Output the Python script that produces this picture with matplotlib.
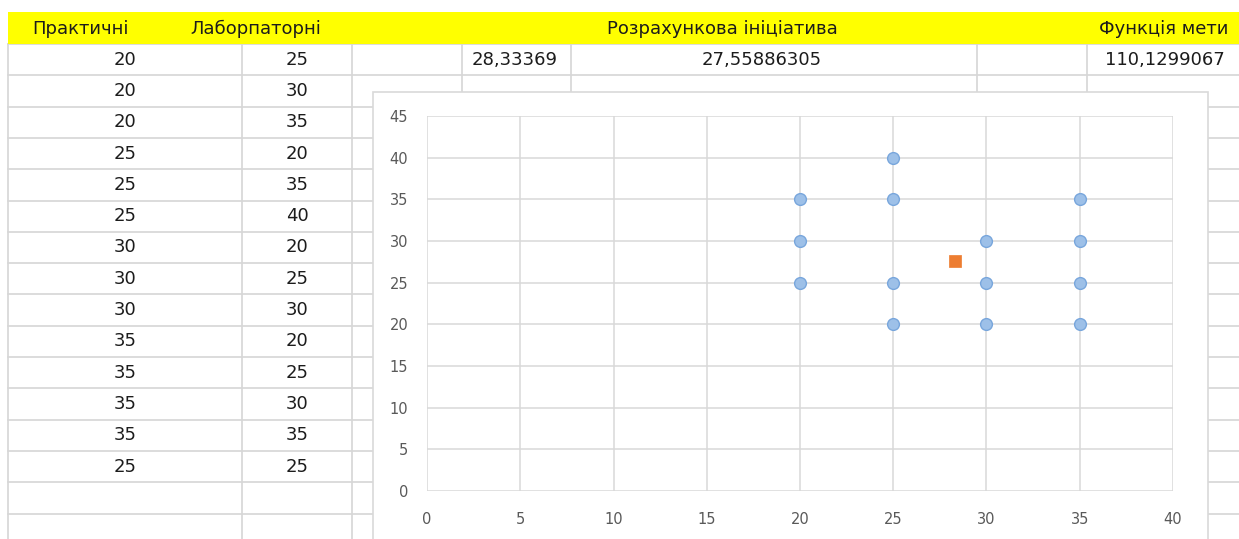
import matplotlib
matplotlib.use("Agg")
import matplotlib.pyplot as plt
from matplotlib.patches import Rectangle

# --- 1. DANE ---
HEADERS = ["Практичні", "Лаборпаторні", "Розрахункова ініціатива", "Функція мети"]
PRAKTYCHNI = [20, 20, 20, 25, 25, 25, 30, 30, 30, 35, 35, 35, 35, 25]
LABORATORNI = [25, 30, 35, 20, 35, 40, 20, 25, 30, 20, 25, 30, 35, 25]
CALC_X = 28.33369
CALC_Y = 27.55886305
FUNC_VALUE = 110.1299067

X_TICKS = [0, 5, 10, 15, 20, 25, 30, 35, 40]
Y_TICKS = [0, 5, 10, 15, 20, 25, 30, 35, 40, 45]

# --- 2. UKLAD (piksele) ---
W, H = 1239, 539
ROW_TOP = 44
ROW_H = 31.3
COL_LINES = [8, 242, 352, 462, 571, 977, 1087]
CHART_BOX = (373, 92, 1208)          # left, top, right
PLOT_BOX = (427, 116, 1173, 491)     # left, top, right, bottom
GRID_CLR = "#d6d6d6"
TEXT_CLR = "#1c1c1c"
FONT = "DejaVu Sans"


def fmt(v, nd):
    return f"{v:.{nd}f}".rstrip("0").replace(".", ",")


def main():
    fig = plt.figure(figsize=(W / 100, H / 100), dpi=100)
    bg = fig.add_axes([0, 0, 1, 1])
    bg.set_xlim(0, W); bg.set_ylim(H, 0); bg.set_axis_off()

    # siatka arkusza
    n_rows = 16
    for k in range(n_rows):
        y = ROW_TOP + ROW_H * k
        bg.plot([COL_LINES[0], W], [y, y], color=GRID_CLR, lw=1.2, zorder=1)
    for x in COL_LINES:
        bg.plot([x, x], [ROW_TOP, H], color=GRID_CLR, lw=1.2, zorder=1)

    # naglowek
    bg.add_patch(Rectangle((COL_LINES[0], 12), W - COL_LINES[0], ROW_TOP - 12,
                           facecolor="#ffff00", edgecolor="none", zorder=2))
    head_pos = [(80, "center"), (256, "center"), (722, "center"), (1099, "left")]
    for (x, ha), txt in zip(head_pos, HEADERS):
        bg.text(x, 28.5, txt, ha=ha, va="center", fontsize=13, family=FONT,
                color=TEXT_CLR, zorder=3)

    # wartosci w tabeli
    for i, (p, l) in enumerate(zip(PRAKTYCHNI, LABORATORNI)):
        yc = ROW_TOP + ROW_H * (i + 0.5)
        bg.text(125, yc, str(p), ha="center", va="center", fontsize=13,
                family=FONT, color=TEXT_CLR, zorder=3)
        bg.text(297, yc, str(l), ha="center", va="center", fontsize=13,
                family=FONT, color=TEXT_CLR, zorder=3)
    yc = ROW_TOP + ROW_H * 0.5
    bg.text(515, yc, fmt(CALC_X, 5), ha="center", va="center", fontsize=13,
            family=FONT, color=TEXT_CLR, zorder=3)
    bg.text(762, yc, fmt(CALC_Y, 8), ha="center", va="center", fontsize=13,
            family=FONT, color=TEXT_CLR, zorder=3)
    bg.text(1165, yc, fmt(FUNC_VALUE, 7), ha="center", va="center", fontsize=13,
            family=FONT, color=TEXT_CLR, zorder=3)

    # ramka wykresu
    cl, ct, cr = CHART_BOX
    bg.add_patch(Rectangle((cl, ct), cr - cl, H - ct + 10, facecolor="white",
                           edgecolor="#d9d9d9", lw=1.2, zorder=5))

    # --- 3. WYKRES PUNKTOWY ---
    pl, pt, pr, pb = PLOT_BOX
    ax = fig.add_axes([pl / W, (H - pb) / H, (pr - pl) / W, (pb - pt) / H])
    ax.set_zorder(10)
    ax.set_facecolor("white")
    ax.set_xlim(X_TICKS[0], X_TICKS[-1]); ax.set_ylim(Y_TICKS[0], Y_TICKS[-1])
    ax.set_xticks(X_TICKS); ax.set_yticks(Y_TICKS)
    ax.grid(True, color="#d9d9d9", lw=1.1)
    ax.set_axisbelow(True)
    for sp in ax.spines.values():
        sp.set_visible(False)
    ax.tick_params(axis="both", length=0, labelsize=10.5, colors="#595959")
    ax.tick_params(axis="x", pad=15)
    ax.tick_params(axis="y", pad=13.5)
    for lab in ax.get_xticklabels() + ax.get_yticklabels():
        lab.set_family(FONT)

    ax.scatter(PRAKTYCHNI, LABORATORNI, s=72, marker="o", facecolor="#9dc0e8",
               edgecolor="#78a6dc", linewidth=1.0, clip_on=False, zorder=3)
    ax.scatter([CALC_X], [CALC_Y], s=72, marker="s", facecolor="#ed7d31",
               edgecolor="#ed7d31", linewidth=0.5, clip_on=False, zorder=4)

    plt.savefig("out.png", dpi=100)
    plt.close(fig)


if __name__ == '__main__':
    main()
